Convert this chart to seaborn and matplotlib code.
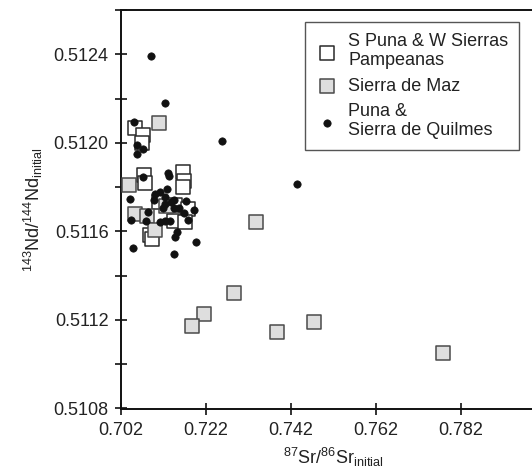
import matplotlib
matplotlib.use("Agg")
import matplotlib.pyplot as plt
from matplotlib.ticker import MultipleLocator, FixedLocator
import seaborn as sns
import pandas as pd

# S Puna & W Sierras Pampeanas (open squares)
spuna_sr = [0.70530, 0.70718, 0.70695, 0.70735, 0.70765, 0.71654, 0.71684, 0.71668,
            0.71088, 0.71472, 0.71786, 0.71442, 0.71708, 0.70883, 0.70930]
spuna_nd = [0.512066, 0.512034, 0.511998, 0.511853, 0.511817, 0.511868, 0.511826, 0.511800,
            0.511732, 0.511718, 0.511703, 0.511647, 0.511642, 0.511582, 0.511564]

# Sierra de Maz (grey squares)
maz_sr = [0.70381, 0.71095, 0.70537, 0.70813, 0.70994, 0.71260, 0.73381, 0.72862,
          0.72156, 0.71873, 0.73875, 0.74747, 0.77786]
maz_nd = [0.511808, 0.512088, 0.511680, 0.511668, 0.511605, 0.511713, 0.511645, 0.511320,
          0.511229, 0.511171, 0.511144, 0.511193, 0.511053]

# Puna & Sierra de Quilmes (dots)
puna_sr = [0.70900, 0.71237, 0.70506, 0.72587, 0.70570, 0.70725, 0.70570, 0.70725,
           0.71307, 0.71331, 0.74347, 0.71284, 0.70419, 0.71008, 0.71119, 0.71244,
           0.71230, 0.71442, 0.71378, 0.71731, 0.71559, 0.71442, 0.71677, 0.71927,
           0.70836, 0.70443, 0.70796, 0.71126, 0.71244, 0.71362, 0.71771, 0.71519,
           0.71465, 0.71967, 0.70476, 0.71456, 0.71190, 0.70970]
puna_nd = [0.512392, 0.512180, 0.512094, 0.512007, 0.511993, 0.511974, 0.511951, 0.511845,
           0.511864, 0.511849, 0.511814, 0.511794, 0.511748, 0.511770, 0.511778, 0.511755,
           0.511725, 0.511740, 0.511732, 0.511737, 0.511707, 0.511704, 0.511683, 0.511698,
           0.511687, 0.511653, 0.511647, 0.511642, 0.511647, 0.511647, 0.511650, 0.511597,
           0.511574, 0.511552, 0.511526, 0.511499, 0.511704, 0.511742]

labels = ["S Puna & W Sierras\nPampeanas", "Sierra de Maz", "Puna &\nSierra de Quilmes"]
x_ticks = [0.702, 0.722, 0.742, 0.762, 0.782]
y_ticks = [0.5108, 0.5112, 0.5116, 0.5120, 0.5124]

sns.set_style("ticks")
plt.rcParams['font.family'] = ['Liberation Sans', 'DejaVu Sans']
plt.rcParams['mathtext.fontset'] = 'custom'
plt.rcParams['mathtext.rm'] = 'Liberation Sans'
plt.rcParams['mathtext.it'] = 'Liberation Sans'

fig = plt.figure(figsize=(5.32, 4.73), dpi=100)
W, H = 532, 473
x0, x1 = 121, 545.4
y0, y1 = 10.2, 408.5
ax = fig.add_axes([x0 / W, 1 - y1 / H, (x1 - x0) / W, (y1 - y0) / H])

df_s = pd.DataFrame({"sr": spuna_sr, "nd": spuna_nd})
df_m = pd.DataFrame({"sr": maz_sr, "nd": maz_nd})
df_p = pd.DataFrame({"sr": puna_sr, "nd": puna_nd})

sns.scatterplot(data=df_s, x="sr", y="nd", ax=ax, marker="s", s=95,
                facecolor="white", edgecolor="#2a2a2a", linewidth=1.1,
                label=labels[0], zorder=3)
sns.scatterplot(data=df_m, x="sr", y="nd", ax=ax, marker="s", s=95,
                facecolor="#dedede", edgecolor="#4a4a4a", linewidth=1.1,
                label=labels[1], zorder=3)
sns.scatterplot(data=df_p, x="sr", y="nd", ax=ax, marker="o", s=28,
                facecolor="#111111", edgecolor="#111111", linewidth=0.5,
                label=labels[2], zorder=4)

ax.set_xlim(0.702, 0.802)
ax.set_ylim(0.5108, 0.5126)
ax.xaxis.set_major_locator(FixedLocator(x_ticks))
ax.set_xticklabels([f"{v:.3f}" for v in x_ticks])
ax.yaxis.set_major_locator(FixedLocator(y_ticks))
ax.set_yticklabels([f"{v:.4f}" for v in y_ticks])
ax.yaxis.set_minor_locator(MultipleLocator(0.0002))

for sp in ax.spines.values():
    sp.set_linewidth(1.4)
    sp.set_color("#111111")

ax.tick_params(axis="both", which="both", direction="inout", length=8, width=1.2,
               color="#111111", labelsize=13, labelcolor="#222222")
ax.tick_params(axis="y", which="major", pad=5)
ax.tick_params(axis="x", which="major", pad=6)

ax.set_xlabel(r"$^{87}$Sr/$^{86}$Sr$_{\mathregular{initial}}$", fontsize=13, color="#222222", labelpad=5)
ax.set_ylabel(r"$^{143}$Nd/$^{144}$Nd$_{\mathregular{initial}}$", fontsize=13, color="#222222", labelpad=6)

leg = ax.legend(loc="upper left", bbox_to_anchor=(0.4336, 0.9704), borderaxespad=0,
                frameon=True, fancybox=False, framealpha=1, edgecolor="#555555",
                fontsize=13, handletextpad=0.6, handlelength=1.2, labelspacing=0.45,
                borderpad=0.6, markerscale=1.0)
leg.get_frame().set_linewidth(1.0)
for t in leg.get_texts():
    t.set_color("#222222")

fig.savefig("out.png", dpi=100)
